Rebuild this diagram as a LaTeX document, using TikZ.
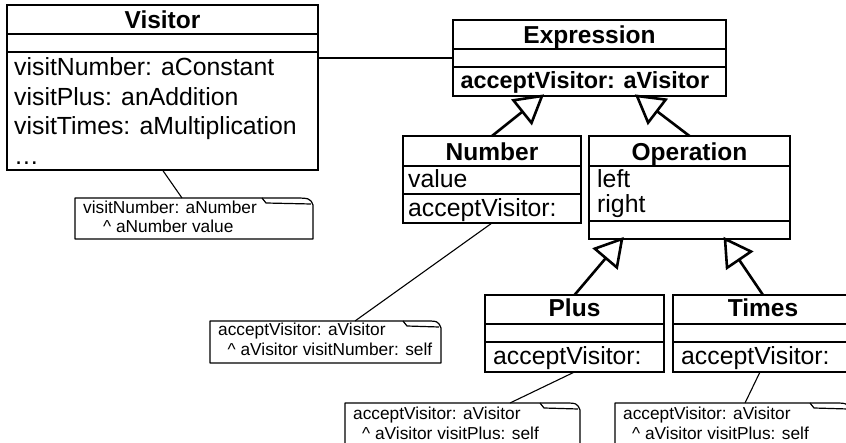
\documentclass[tikz,border=0pt]{standalone}
\usepackage{fontspec}
\setmainfont{Liberation Sans}
\usetikzlibrary{calc}

\tikzset{
  box/.style={draw, line width=1.3pt, inner sep=0pt, outer sep=0pt, anchor=north west},
  rule/.style={line width=1.3pt},
  title/.style={font=\fontsize{24.5}{29}\selectfont\bfseries, anchor=base, inner sep=0pt},
  member/.style={font=\fontsize{24.8}{29}\selectfont, anchor=base west, inner sep=0pt},
  boldmember/.style={font=\fontsize{23.4}{29}\selectfont\bfseries, anchor=base west, inner sep=0pt},
  notearea/.style={inner sep=0pt, outer sep=0pt, anchor=north west},
  noteline/.style={line width=1.2pt, line join=round},
  notetext/.style={font=\fontsize{17.3}{20}\selectfont, anchor=base west, inner sep=0pt},
  link/.style={line width=1.1pt},
  genline/.style={line width=2.6pt},
  genhead/.style={line width=2.6pt, line join=miter, fill=white},
}

% note outline with a curled top-right corner; #1 = node, #2 = fold width
\newcommand\drawnote[2]{%
  \draw[noteline, fill=white] (#1.south west) -- (#1.north west)
    -- ([xshift={-#2pt}]#1.north east)
    -- ([xshift={-0.45*#2pt}]#1.north east)
    .. controls ([xshift=-3pt]#1.north east) .. ([yshift=-7pt]#1.north east)
    -- (#1.south east) -- cycle;
  \draw[noteline] ([xshift={-#2pt}]#1.north east)
    -- ([xshift={-#2pt+4pt}, yshift=-5pt]#1.north east)
    -- ([xshift=-2pt, yshift=-6pt]#1.north east);
}

% generalisation: line from subclass point #1 to a hollow triangle whose apex is #2
\newcommand\generalise[2]{%
  \coordinate (gbase) at ($(#2)!25pt!(#1)$);
  \draw[genline] (#1) -- (gbase);
  \draw[genhead] (#2) -- ($(gbase)!14.5pt!90:(#2)$) -- ($(gbase)!14.5pt!-90:(#2)$) -- cycle;
}

\begin{document}
\begin{tikzpicture}[x=1pt, y=-1pt]
\useasboundingbox (0,0) rectangle (846,443);
\clip (0,0) rectangle (846,443);

% ---------------- Visitor ----------------
\node[box, minimum width=311pt, minimum height=165pt] (visitor) at (7,5) {};
\draw[rule] ([yshift=-29pt]visitor.north west) -- ([yshift=-29pt]visitor.north east);
\draw[rule] ([yshift=-47pt]visitor.north west) -- ([yshift=-47pt]visitor.north east);
\node[title] (visitorT) at (162.5,29) {Visitor};
\node[member] (visitorM1) at (14,76) {visitNumber: aConstant};
\node[member] (visitorM2) at (14,105.5) {visitPlus: anAddition};
\node[member] (visitorM3) at (14,135) {visitTimes: aMultiplication};
\node[member] (visitorM4) at (14,164.5) {…};

% ---------------- Expression ----------------
\node[box, minimum width=273pt, minimum height=76pt] (expr) at (453,20) {};
\draw[rule] ([yshift=-29pt]expr.north west) -- ([yshift=-29pt]expr.north east);
\draw[rule] ([yshift=-47pt]expr.north west) -- ([yshift=-47pt]expr.north east);
\node[title] (exprT) at (589.5,44) {Expression};
\node[boldmember] (exprM1) at (460.5,88.5) {acceptVisitor: aVisitor};

% ---------------- Number ----------------
\node[box, minimum width=178pt, minimum height=87pt] (number) at (403,136) {};
\draw[rule] ([yshift=-30pt]number.north west) -- ([yshift=-30pt]number.north east);
\draw[rule] ([yshift=-58pt]number.north west) -- ([yshift=-58pt]number.north east);
\node[title] (numberT) at (492,161) {Number};
\node[member] (numberA1) at (408,188) {value};
\node[member] (numberM1) at (408,216.5) {acceptVisitor:};

% ---------------- Operation ----------------
\node[box, minimum width=201pt, minimum height=103pt] (operation) at (589,136) {};
\draw[rule] ([yshift=-30pt]operation.north west) -- ([yshift=-30pt]operation.north east);
\draw[rule] ([yshift=-85pt]operation.north west) -- ([yshift=-85pt]operation.north east);
\node[title] (operationT) at (689.5,161) {Operation};
\node[member] (operationA1) at (597,188) {left};
\node[member] (operationA2) at (597,213) {right};

% ---------------- Plus ----------------
\node[box, minimum width=179pt, minimum height=77pt] (plus) at (485,295) {};
\draw[rule] ([yshift=-29pt]plus.north west) -- ([yshift=-29pt]plus.north east);
\draw[rule] ([yshift=-47pt]plus.north west) -- ([yshift=-47pt]plus.north east);
\node[title] (plusT) at (574.5,317) {Plus};
\node[member] (plusM1) at (493,365) {acceptVisitor:};

% ---------------- Times ----------------
\node[box, minimum width=180pt, minimum height=77pt] (times) at (673,295) {};
\draw[rule] ([yshift=-29pt]times.north west) -- ([yshift=-29pt]times.north east);
\draw[rule] ([yshift=-47pt]times.north west) -- ([yshift=-47pt]times.north east);
\node[title] (timesT) at (763,317) {Times};
\node[member] (timesM1) at (681,365) {acceptVisitor:};

% ---------------- notes ----------------
\node[notearea, minimum width=238pt, minimum height=41pt] (n1) at (75,198) {};
\drawnote{n1}{51}
\node[notetext] (n1a) at (83,214) {visitNumber: aNumber};
\node[notetext] (n1b) at (103,233) {\^{} aNumber value};

\node[notearea, minimum width=231pt, minimum height=42pt] (n2) at (210,321) {};
\drawnote{n2}{38}
\node[notetext] (n2a) at (218,335.5) {acceptVisitor: aVisitor};
\node[notetext] (n2b) at (227.5,356) {\^{} aVisitor visitNumber: self};

\node[notearea, minimum width=235pt, minimum height=50pt] (n3) at (345,403) {};
\drawnote{n3}{40}
\node[notetext] (n3a) at (353,419) {acceptVisitor: aVisitor};
\node[notetext] (n3b) at (362,439) {\^{} aVisitor visitPlus: self};

\node[notearea, minimum width=235pt, minimum height=50pt] (n4) at (615,403) {};
\drawnote{n4}{40}
\node[notetext] (n4a) at (623,419) {acceptVisitor: aVisitor};
\node[notetext] (n4b) at (632,439) {\^{} aVisitor visitPlus: self};

% ---------------- connectors ----------------
\draw[link] (expr.west) -- (expr.west -| visitor.east);
\draw[link] (visitor.south) -- ([xshift=-12pt]n1.north);
\draw[link] (number.south) -- ([xshift=29.5pt]n2.north);
\draw[link] (plus.south) -- ([xshift=47.5pt]n3.north);
\draw[link] ([xshift=-3pt]times.south) -- ([xshift=12.5pt]n4.north);

% ---------------- generalisation ----------------
\coordinate (exprL) at ([xshift=-47.5pt]expr.south);
\coordinate (exprR) at ([xshift=47.5pt]expr.south);
\coordinate (operL) at ([xshift=-67.5pt]operation.south);
\coordinate (operR) at ([xshift=35.5pt]operation.south);
\generalise{number.north}{exprL}
\generalise{operation.north}{exprR}
\generalise{plus.north}{operL}
\generalise{times.north}{operR}
\end{tikzpicture}
\end{document}
